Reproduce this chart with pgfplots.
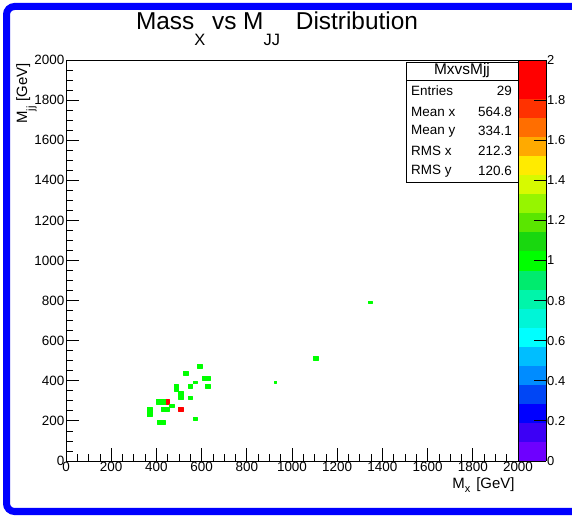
\documentclass[border=0pt]{standalone}
\usepackage{fontspec}
\setmainfont{Liberation Sans}
\usepackage{pgfplots}
\usepackage{pgfplotstable}
\pgfplotsset{compat=1.18}

% filled bins of the 2D histogram: four corners per bin, c = bin content
\pgfplotstableread{
x y c
580 463 1
602 463 1
602 485 1
580 485 1
520 426 1
540 426 1
540 448 1
520 448 1
602 402 1
636 402 1
636 422 1
602 422 1
561 386 1
580 386 1
580 398 1
561 398 1
541 364 1
560 364 1
560 384 1
541 384 1
618 364 1
637 364 1
637 384 1
618 384 1
478 348 1
497 348 1
497 384 1
478 384 1
498 310 1
518 310 1
518 346 1
498 346 1
541 310 1
559 310 1
559 322 1
541 322 1
401 284 1
443 284 1
443 306 1
401 306 1
443 284 2
455 284 2
455 306 2
443 306 2
458 270 1
477 270 1
477 282 1
458 282 1
423 246 1
456 246 1
456 266 1
423 266 1
360 221 1
380 221 1
380 266 1
360 266 1
498 246 2
518 246 2
518 266 2
498 266 2
561 205 1
579 205 1
579 218 1
561 218 1
402 183 1
440 183 1
440 203 1
402 203 1
920 387 1
932 387 1
932 399 1
920 399 1
1094 504 1
1115 504 1
1115 525 1
1094 525 1
1337 787 1
1356 787 1
1356 797 1
1337 797 1
}\cells

\pgfplotsset{
  colormap={rootpal}{
    rgb255=(110,0,255) rgb255=(60,0,245) rgb255=(0,0,255) rgb255=(0,70,245)
    rgb255=(0,140,255) rgb255=(0,190,255) rgb255=(0,255,255) rgb255=(0,245,215)
    rgb255=(0,245,170) rgb255=(0,235,110) rgb255=(0,255,0) rgb255=(25,215,15)
    rgb255=(90,230,0) rgb255=(150,245,0) rgb255=(215,250,0) rgb255=(255,235,0)
    rgb255=(255,170,0) rgb255=(255,110,0) rgb255=(255,50,0) rgb255=(255,0,0)
    rgb255=(255,0,0)
  },
}

\begin{document}
\begin{tikzpicture}
\useasboundingbox (0,0) rectangle (572bp,516bp);
\fill[white] (0,0) rectangle (572bp,516bp);
\draw[blue, line width=7bp, rounded corners=8bp] (6.5bp,4.5bp) rectangle (610bp,509.5bp);

\begin{axis}[
    at={(66bp,55bp)}, anchor=south west,
    scale only axis, width=452bp, height=401bp,
    xmin=0, xmax=2000, ymin=0, ymax=2000,
    xtick={0,200,...,2000}, ytick={0,200,...,2000},
    minor tick num=3,
    tick pos=left, tick align=inside,
    major tick length=13bp, minor tick length=7bp,
    every tick/.style={black, line width=0.8bp},
    axis line style={line width=0.8bp},
    ticklabel style={font=\fontsize{13.5}{15}\selectfont},
    xticklabel style={inner sep=1bp},
    yticklabel style={inner sep=1.5bp},
    /pgf/number format/1000 sep={},
    /pgf/number format/assume math mode=true,
    colormap name=rootpal,
    colormap access=piecewise constant,
    point meta min=0, point meta max=2,
    colorbar,
    colorbar style={
        at={(parent axis.north east)}, anchor=north west, xshift=-0.3cm,
        scale only axis, width=28bp, height=401bp,
        ytick={0,0.2,0.4,0.6,0.8,1,1.2,1.4,1.6,1.8,2},
        ytick pos=right, yticklabel pos=right, tick align=inside,
        major tick length=12bp,
        every tick/.style={black, line width=0.8bp},
        axis line style={line width=0.8bp},
        yticklabel style={font=\fontsize{13}{15}\selectfont, inner sep=1bp},
        /pgf/number format/assume math mode=true,
    },
]
\addplot[patch, patch type=rectangle, shader=flat, point meta=\thisrow{c}]
    table[x=x, y=y] {\cells};
\end{axis}

% title
\node[anchor=base, font=\fontsize{24.5}{27}\selectfont] at (277bp,486bp)
  {Mass\raisebox{-0.62em}{\fontsize{16.5}{18}\selectfont X} vs M\raisebox{-0.62em}{\fontsize{16.5}{18}\selectfont JJ}\hspace{0.65em}Distribution};
% axis titles
\node[rotate=90, anchor=base east, font=\fontsize{15}{17}\selectfont] at (27bp,456bp)
  {M\raisebox{-0.5em}{\fontsize{11}{12}\selectfont jj}\hspace{0.3em}[GeV]};
\node[anchor=base east, font=\fontsize{15}{17}\selectfont] at (518bp,28bp)
  {M\raisebox{-0.3em}{\fontsize{11}{12}\selectfont x}\hspace{0.4em}[GeV]};

% stats box
\draw[black, line width=0.8bp, fill=white] (406bp,334bp) rectangle (518bp,454bp);
\draw[black, line width=0.8bp] (406bp,436bp) -- (518bp,436bp);
\node[font=\fontsize{15.5}{17}\selectfont] at (462bp,445bp) {MxvsMjj};
\begin{scope}[every node/.style={font=\fontsize{13.5}{15}\selectfont, inner sep=0pt}]
\node[anchor=west] at (411bp,425bp) {Entries}; \node[anchor=east] at (512bp,425bp) {29};
\node[anchor=west] at (411bp,404bp) {Mean x};  \node[anchor=east] at (512bp,404bp) {564.8};
\node[anchor=west] at (411bp,385bp) {Mean y};  \node[anchor=east] at (512bp,385bp) {334.1};
\node[anchor=west] at (411bp,365bp) {RMS x};   \node[anchor=east] at (512bp,365bp) {212.3};
\node[anchor=west] at (411bp,345bp) {RMS y};   \node[anchor=east] at (512bp,345bp) {120.6};
\end{scope}
\end{tikzpicture}
\end{document}
